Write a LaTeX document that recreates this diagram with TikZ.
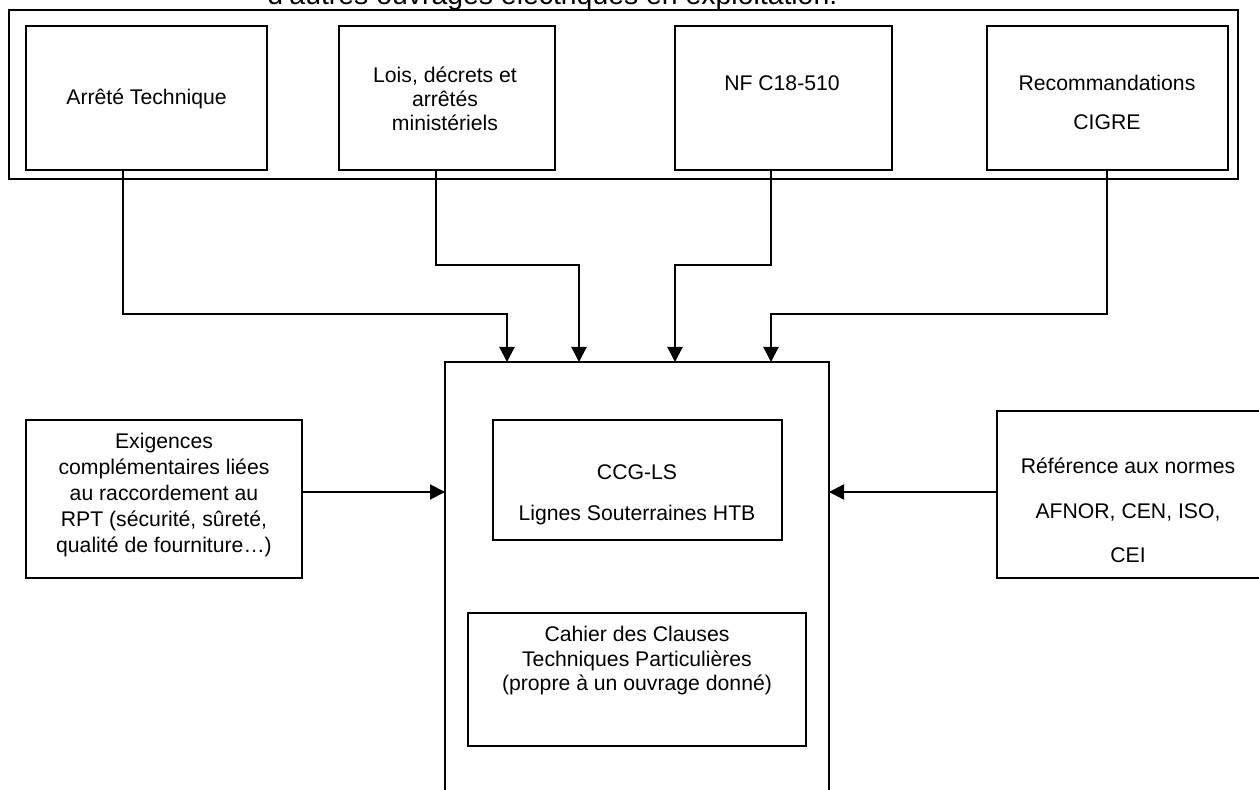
\documentclass[tikz,border=0pt]{standalone}
\usepackage{fontspec}
\setmainfont{Liberation Sans}
\usetikzlibrary{arrows.meta}
\begin{document}
\begin{tikzpicture}[x=0.5pt,y=-0.5pt,
  box/.style={draw,line width=0.8pt,inner sep=0pt,outer sep=0pt},
  frame/.style={draw,line width=1pt,inner sep=0pt,outer sep=0pt},
  txt/.style={align=center,inner sep=0pt,font=\fontsize{10.6pt}{#1}\selectfont},
  txt/.default=12.3pt,
  arr/.style={line width=1pt,-{Triangle[length=7.5pt,width=7.5pt]}}]
\useasboundingbox (0,0) rectangle (1259,790);
\clip (0,0) rectangle (1259,790);
% title (cut off at top)
\node[anchor=base west,inner sep=0pt,font=\fontsize{14.2pt}{16pt}\selectfont] (title) at (267,4.5) {d’autres ouvrages électriques en exploitation.};
% top frame and boxes
\node[frame,minimum width=614.5pt,minimum height=84.5pt] (frame) at (623.5,94.5) {};
\node[box,minimum width=120.5pt,minimum height=72pt] (b1) at (146.5,98) {};
\node[box,minimum width=108pt,minimum height=72pt] (b2) at (447,98) {};
\node[box,minimum width=108.5pt,minimum height=72pt] (b3) at (783.5,98) {};
\node[box,minimum width=120.5pt,minimum height=72pt] (b4) at (1107.5,98) {};
\node[txt] (t1) at (146.5,99) {Arrêté Technique};
\node[txt=12pt] (t2) at (445,99) {Lois, décrets et\\arrêtés\\ministériels};
\node[txt] (t3) at (782,83) {NF C18-510};
\node[txt=19.5pt] (t4) at (1107,102.5) {Recommandations\\CIGRE};
% main box
\node[frame,minimum width=192pt,minimum height=219pt] (main) at (637,581) {};
\node[box,minimum width=144.5pt,minimum height=60pt] (ccg) at (637.5,480) {};
\node[txt=20.5pt] (tccg) at (637,494.5) {CCG-LS\\Lignes Souterraines HTB};
\node[box,minimum width=169pt,minimum height=66.5pt] (cctp) at (637,679.5) {};
\node[txt=12.25pt] (tcctp) at (637,661) {Cahier des Clauses\\Techniques Particulières\\(propre à un ouvrage donné)};
% side boxes
\node[box,minimum width=138pt,minimum height=79pt] (exig) at (164,499) {};
\node[txt=13pt] (texig) at (164,495) {Exigences\\complémentaires liées\\au raccordement au\\RPT (sécurité, sûreté,\\qualité de fourniture…)};
\node[box,minimum width=132.5pt,minimum height=83.5pt] (ref) at (1129.5,494.5) {};
\node[txt=22.25pt] (tref) at (1128,510.5) {Référence aux normes\\AFNOR, CEN, ISO,\\CEI};
% routing coordinates
\coordinate (x1) at (123,314);
\coordinate (x2) at (436,265);
\coordinate (x3) at (771,265);
\coordinate (x4) at (1107,314);
\coordinate (p1) at (507,0);
\coordinate (p2) at (579,0);
\coordinate (p3) at (675,0);
\coordinate (p4) at (771,0);
\coordinate (m) at (0,492);
% connectors
\draw[arr] (b1.south -| x1) -- (x1) -| (main.north -| p1);
\draw[arr] (b2.south -| x2) -- (x2) -| (main.north -| p2);
\draw[arr] (b3.south -| x3) -- (x3) -| (main.north -| p3);
\draw[arr] (b4.south -| x4) -- (x4) -| (main.north -| p4);
\draw[arr] (exig.east |- m) -- (main.west |- m);
\draw[arr] (ref.west |- m) -- (main.east |- m);
\end{tikzpicture}
\end{document}
